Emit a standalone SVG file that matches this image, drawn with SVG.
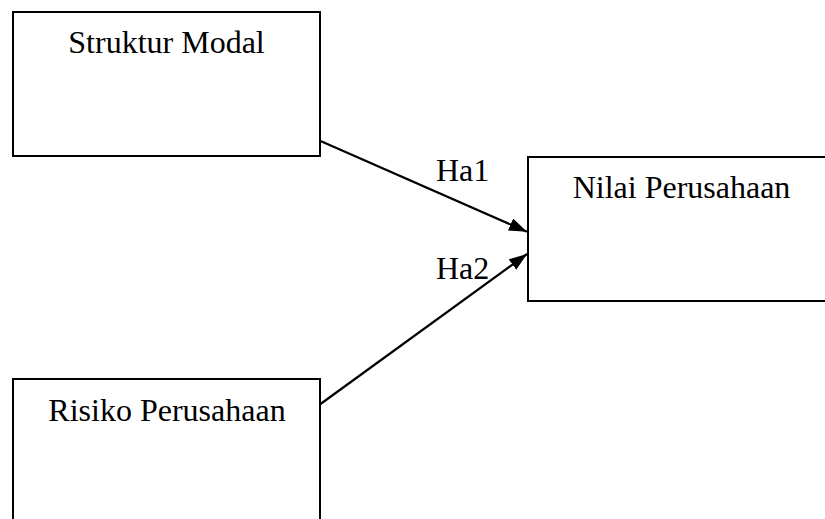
<svg xmlns="http://www.w3.org/2000/svg" width="825" height="519" viewBox="0 0 825 519">
  <style>
    .box { fill: #ffffff; stroke: #000000; stroke-width: 2; }
    .lbl { font-family: "Liberation Serif", "Times New Roman", serif; font-size: 32px; fill: #000000; }
    .edge { stroke: #000000; stroke-width: 2.2; fill: none; marker-end: url(#arrow); }
  </style>
  <defs>
    <marker id="arrow" markerUnits="userSpaceOnUse" markerWidth="20" markerHeight="16" refX="18" refY="6.5" orient="auto">
      <path d="M0,0 L18,6.5 L0,13 z" fill="#000000"/>
    </marker>
  </defs>
  <rect width="825" height="519" fill="#ffffff"/>
  <g id="struktur-modal">
    <rect class="box" x="13" y="12" width="307" height="144"/>
    <text class="lbl" x="166.5" y="53" text-anchor="middle">Struktur Modal</text>
  </g>
  <g id="risiko-perusahaan">
    <rect class="box" x="13" y="379" width="307" height="160"/>
    <text class="lbl" x="167" y="421" text-anchor="middle">Risiko Perusahaan</text>
  </g>
  <g id="nilai-perusahaan">
    <rect class="box" x="528" y="157" width="310" height="144"/>
    <text class="lbl" x="681.5" y="198" text-anchor="middle">Nilai Perusahaan</text>
  </g>
  <g id="connectors">
    <line class="edge" x1="320.5" y1="141" x2="527" y2="231.7"/>
    <line class="edge" x1="320.5" y1="404" x2="527" y2="254"/>
    <text class="lbl" x="436" y="181">Ha1</text>
    <text class="lbl" x="436" y="279">Ha2</text>
  </g>
</svg>
